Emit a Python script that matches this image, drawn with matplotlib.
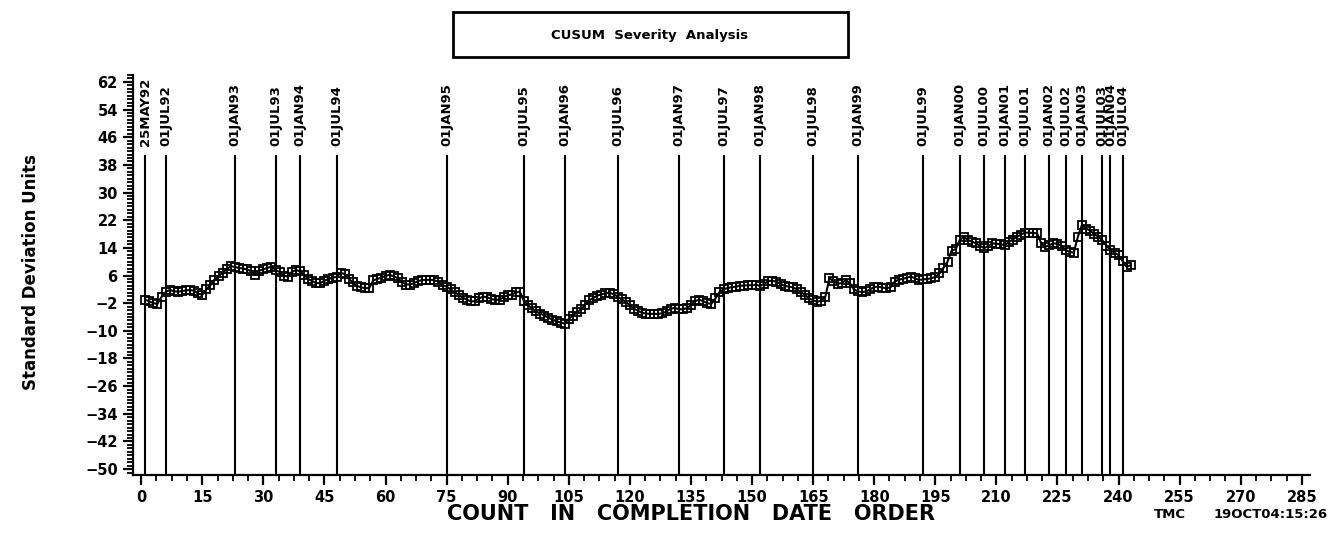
#!/usr/bin/env python3

import matplotlib
matplotlib.use("Agg")
import matplotlib.pyplot as plt
from matplotlib.patches import Rectangle
from matplotlib.ticker import MultipleLocator

# CUSUM values, one per count (1..243)
cusum = [
    -1.0, -1.5, -2.0, -2.2, -0.2, 1.2, 1.8, 1.5, 1.3, 1.5,
    1.7, 1.8, 1.6, 0.8, 0.4, 2.0, 3.2, 4.8, 5.8, 6.8,
    7.8, 8.7, 8.5, 8.2, 8.0, 7.8, 7.2, 6.2, 7.4, 7.8,
    8.2, 8.6, 7.6, 7.0, 6.0, 5.7, 7.0, 7.6, 7.2, 6.2,
    5.0, 4.4, 3.8, 3.8, 4.5, 5.0, 5.4, 5.6, 6.8, 6.4,
    5.0, 4.0, 3.0, 2.6, 2.3, 2.4, 4.6, 5.0, 5.4, 5.9,
    6.2, 5.8, 5.2, 4.2, 3.4, 3.4, 3.8, 4.4, 4.7, 4.7,
    4.8, 4.6, 4.2, 3.2, 2.8, 2.0, 1.2, 0.4, -0.4, -1.0,
    -1.5, -1.4, -0.6, -0.1, -0.3, -0.8, -1.1, -1.0, -0.3, 0.3,
    0.5, 1.1, 1.3, -1.4, -2.6, -3.5, -4.4, -5.0, -5.6, -6.2,
    -6.8, -7.2, -7.6, -7.9, -6.5, -5.6, -4.6, -3.8, -2.4, -1.2,
    -0.5, 0.2, 0.5, 0.9, 1.0, 0.6, -0.1, -0.9, -1.6, -2.6,
    -3.6, -4.2, -4.8, -5.0, -5.1, -5.1, -5.1, -4.9, -4.4, -3.6,
    -3.4, -3.7, -3.8, -3.4, -2.6, -1.4, -1.0, -1.4, -2.0, -2.2,
    -0.6, 1.2, 2.0, 2.4, 2.6, 2.8, 3.0, 3.1, 3.2, 3.2,
    3.3, 3.0, 3.6, 4.4, 4.5, 4.2, 3.6, 3.0, 2.8, 2.6,
    2.0, 1.2, 0.4, -0.6, -1.2, -1.6, -1.3, -0.1, 5.2, 4.4,
    3.6, 3.8, 4.7, 3.8, 2.0, 1.4, 1.2, 1.4, 2.0, 2.7,
    2.8, 2.5, 2.3, 2.6, 4.2, 4.8, 5.0, 5.4, 5.7, 5.2,
    4.7, 4.9, 5.0, 5.2, 5.6, 6.6, 8.2, 10.0, 13.2, 13.6,
    16.3, 17.2, 16.3, 15.8, 15.3, 14.6, 13.9, 14.6, 15.3, 15.2,
    15.0, 14.8, 15.6, 16.4, 17.2, 17.8, 18.4, 18.4, 18.3, 18.2,
    15.3, 14.3, 14.8, 15.3, 15.2, 14.6, 13.4, 12.8, 12.6, 17.2,
    20.6, 19.6, 19.0, 18.0, 17.2, 16.2, 14.6, 13.4, 12.6, 11.9,
    10.2, 8.5, 9.0,
]
counts = list(range(1, len(cusum) + 1))

# reference dates and the count where each one falls
date_counts = [1, 6, 23, 33, 39, 48, 75, 94, 104, 117, 132, 143, 152,
               165, 176, 192, 201, 207, 212, 217, 223, 227, 231, 236, 238, 241]
date_labels = ["25MAY92", "01JUL92", "01JAN93", "01JUL93", "01JAN94",
               "01JUL94", "01JAN95", "01JUL95", "01JAN96", "01JUL96",
               "01JAN97", "01JUL97", "01JAN98", "01JUL98", "01JAN99",
               "01JUL99", "01JAN00", "01JUL00", "01JAN01", "01JUL01",
               "01JAN02", "01JUL02", "01JAN03", "01JUL03", "01JAN04",
               "01JUL04"]

x_ticks = list(range(0, 286, 15))
y_ticks = list(range(-50, 63, 8))


def main() -> None:
    fig = plt.figure(figsize=(13.41, 5.42), dpi=100)
    ax = fig.add_axes([133 / 1341, 67 / 542, 1177 / 1341, 400 / 542])

    y_bottom = -51.7
    ax.set_xlim(-2, 287)
    ax.set_ylim(y_bottom, 64)

    ax.vlines(date_counts, y_bottom, 41, colors="black", linewidth=1.5)
    for x, lab in zip(date_counts, date_labels):
        ax.text(x, 43.5, lab, rotation=90, ha="center", va="bottom",
                fontsize=9.5, fontweight="bold")

    ax.plot(counts, cusum, color="black", linewidth=1.5, marker="s",
            markersize=6, markerfacecolor="none", markeredgecolor="black",
            markeredgewidth=1.3)

    for side in ["top", "right"]:
        ax.spines[side].set_visible(False)
    for side in ["left", "bottom"]:
        ax.spines[side].set_linewidth(1.6)

    ax.set_xticks(x_ticks)
    ax.set_yticks(y_ticks)
    ax.xaxis.set_minor_locator(MultipleLocator(3.75))
    ax.yaxis.set_minor_locator(MultipleLocator(1))
    ax.tick_params(axis="both", which="major", length=7, width=1.6,
                   labelsize=10.5, pad=4)
    ax.tick_params(axis="both", which="minor", length=4, width=1.3)
    for lab in ax.get_xticklabels() + ax.get_yticklabels():
        lab.set_fontweight("bold")

    # title box
    fig.patches.append(Rectangle((453 / 1341, 1 - 57 / 542), 395 / 1341,
                                 45 / 542, transform=fig.transFigure,
                                 fill=False, edgecolor="black",
                                 linewidth=2))
    fig.text(650 / 1341, 1 - 35 / 542, "CUSUM  Severity  Analysis",
             ha="center", va="center", fontsize=9.5, fontweight="bold")

    fig.text(31 / 1341, 1 - 272 / 542, "Standard Deviation Units",
             rotation=90, ha="center", va="center", fontsize=12,
             fontweight="bold")
    fig.text(691 / 1341, 1 - 514 / 542,
             "COUNT   IN   COMPLETION   DATE   ORDER",
             ha="center", va="center", fontsize=15, fontweight="bold")
    fig.text(1170 / 1341, 1 - 514 / 542, "TMC", ha="center", va="center",
             fontsize=9.5, fontweight="bold")
    fig.text(1328 / 1341, 1 - 514 / 542, "19OCT04:15:26", ha="right",
             va="center", fontsize=9.5, fontweight="bold")

    fig.savefig("out.png", dpi=100)


if __name__ == "__main__":
    main()
